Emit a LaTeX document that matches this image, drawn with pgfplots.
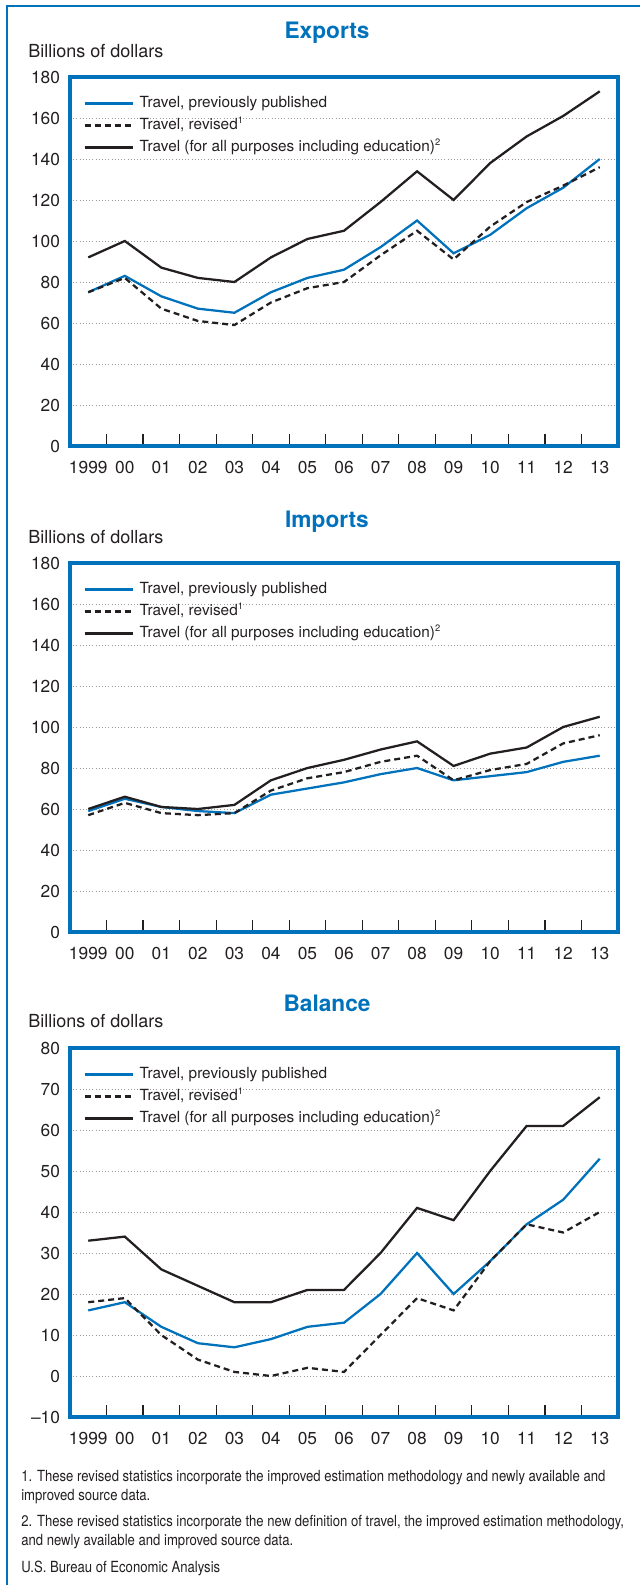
\documentclass[border=0pt]{standalone}
\usepackage{pgfplots}
\pgfplotsset{compat=1.18}
\usepackage{pgfplotstable}
\usepackage{fontspec}
\setmainfont{TeX Gyre Heros}
\newfontfamily\notefont[FakeStretch=0.855]{TeX Gyre Heros}

\definecolor{beablue}{RGB}{0,114,188}
\definecolor{ink}{RGB}{35,31,32}

% billions of dollars, 1999-2013
\pgfplotstableread{
yr prev rev all
0 75 75 92
1 83 82 100
2 73 67 87
3 67 61 82
4 65 59 80
5 75 70 92
6 82 77 101
7 86 80 105
8 97 93 119
9 110 105 134
10 94 91 120
11 103 107 138
12 116 119 151
13 126 127 161
14 140 136 173
}\exports

\pgfplotstableread{
yr prev rev all
0 59 57 60
1 65 63 66
2 61 58 61
3 59 57 60
4 58 58 62
5 67 69 74
6 70 75 80
7 73 78 84
8 77 83 89
9 80 86 93
10 74 74 81
11 76 79 87
12 78 82 90
13 83 92 100
14 86 96 105
}\imports

\pgfplotstableread{
yr prev rev all
0 16 18 33
1 18 19 34
2 12 10 26
3 8 4 22
4 7 1 18
5 9 0 18
6 12 2 21
7 13 1 21
8 20 10 30
9 30 19 41
10 20 16 38
11 28 28 50
12 37 37 61
13 43 35 61
14 53 40 68
}\balance

\newcommand{\fnmark}[1]{\raisebox{0.75ex}{\fontsize{7}{7}\selectfont #1}}

\pgfplotsset{
  bea/.style={
    scale only axis, width=411pt, height=276.75pt, anchor=north west,
    xmin=-0.5, xmax=14.5,
    xtick={0,...,14},
    xticklabels={1999,00,01,02,03,04,05,06,07,08,09,10,11,12,13},
    minor xtick={0.5,1.5,...,13.5},
    major tick length=0pt, minor tick length=9pt,
    minor tick style={ink, line width=0.9pt},
    xtick pos=bottom, ytick pos=left,
    axis line style={beablue, line width=2.3pt},
    ymajorgrids,
    major grid style={gray!80, line width=0.6pt, dash pattern=on 0.6pt off 1.8pt},
    tick label style={font=\fontsize{13}{13}\selectfont, text=ink},
    /pgf/number format/assume math mode=true,
    yticklabel style={xshift=-4pt},
    xticklabel style={yshift=-7.5pt},
    legend cell align=left,
    legend style={draw=none, fill=none, at={(0.024,0.959)}, anchor=north west,
      inner sep=0pt, font=\fontsize{11.5}{11.5}\selectfont, text=ink,
      nodes={inner xsep=0pt, inner ysep=0pt, minimum height=16.5pt,
        text height=8.5pt, text depth=2.5pt},
      /tikz/every odd column/.append style={column sep=4.5pt}},
    legend image code/.code={\draw[#1] (0pt,0pt) -- (36pt,0pt);},
  },
  prevline/.style={beablue, line width=1.7pt},
  revline/.style={ink, line width=1.7pt, dash pattern=on 4.5pt off 3pt},
  allline/.style={ink, line width=1.7pt},
}

\newcommand{\series}[1]{%
  \addplot[prevline] table[x=yr,y=prev]{#1};
  \addlegendentry{Travel, previously published}
  \addplot[revline] table[x=yr,y=rev]{#1};
  \addlegendentry{Travel, revised\fnmark{1}}
  \addplot[allline] table[x=yr,y=all]{#1};
  \addlegendentry{Travel (for all purposes including education)\fnmark{2}}
}

\begin{document}
\begin{tikzpicture}
\begin{scope}[x=0.75pt,y=-0.75pt]
  \path[use as bounding box] (0,0) rectangle (639,1585);
  \draw[beablue, line width=1.9pt] (7,1595) -- (7,6) -- (650,6);
  \foreach \t/\ty in {Exports/33, Imports/522, Balance/1003}{
    \node[font=\fontsize{17}{17}\selectfont\bfseries, text=beablue] at (327,\ty) {\t};
  }
  \foreach \by in {51, 537, 1021}{
    \node[anchor=west, inner sep=0pt, font=\fontsize{13.5}{13.5}\selectfont, text=ink]
      at (28,\by) {Billions of dollars};
  }
  \begin{scope}[every node/.style={anchor=west, inner sep=0pt, text=ink,
      font=\notefont\fontsize{11.5}{11.5}\selectfont, text height=8.3pt, text depth=2.4pt}]
    \node at (21,1478) {1. These revised statistics incorporate the improved estimation methodology and newly available and};
    \node at (21,1497) {improved source data.};
    \node at (21,1523) {2. These revised statistics incorporate the new definition of travel, the improved estimation methodology,};
    \node at (21,1542) {and newly available and improved source data.};
    \node at (21,1569) {U.S. Bureau of Economic Analysis};
  \end{scope}
\end{scope}

\begin{axis}[bea, at={(52.5pt,-57.75pt)}, ymin=0, ymax=180, ytick={0,20,...,180}]
  \series{\exports}
\end{axis}

\begin{axis}[bea, at={(52.5pt,-422.25pt)}, ymin=0, ymax=180, ytick={0,20,...,180}]
  \series{\imports}
\end{axis}

\begin{axis}[bea, at={(52.5pt,-786pt)}, ymin=-10, ymax=80, ytick={-10,0,...,80},
  yticklabels={\textendash10,0,10,20,30,40,50,60,70,80}]
  \series{\balance}
\end{axis}
\end{tikzpicture}
\end{document}
